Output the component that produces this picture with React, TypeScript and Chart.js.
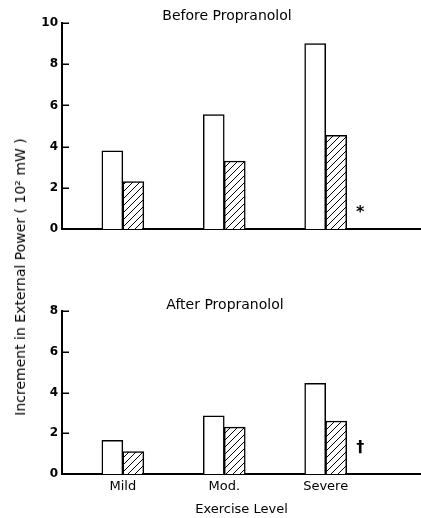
import React, { useEffect, useRef } from "react";
import { Chart, registerables } from "chart.js";

Chart.register(...registerables);

// ---- data ----
const categories = ["Mild", "Mod.", "Severe"];
const beforeOpen = [3.8, 5.55, 9.0];
const beforeHatched = [2.3, 3.3, 4.55];
const afterOpen = [1.65, 2.85, 4.45];
const afterHatched = [1.1, 2.3, 2.6];
const beforeTicks = [0, 2, 4, 6, 8, 10];
const afterTicks = [0, 2, 4, 6, 8];
const beforeTitle = "Before Propranolol";
const afterTitle = "After Propranolol";
const xTitle = "Exercise Level";
const yTitle = "Increment in External Power ( 10² mW )";
const beforeMark = { text: "*", x: 2.34, y: 0.8 };
const afterMark = { text: "†", x: 2.34, y: 1.3 };

const FAMILY = '"DejaVu Sans", Arial, sans-serif';

function makeHatch(): CanvasPattern | string {
  const s = 7;
  const c = document.createElement("canvas");
  c.width = s;
  c.height = s;
  const g = c.getContext("2d");
  if (!g) return "#fff";
  g.fillStyle = "#fff";
  g.fillRect(0, 0, s, s);
  g.strokeStyle = "#000";
  g.lineWidth = 1;
  g.beginPath();
  g.moveTo(0, s);
  g.lineTo(s, 0);
  g.moveTo(-1, 1);
  g.lineTo(1, -1);
  g.moveTo(s - 1, s + 1);
  g.lineTo(s + 1, s - 1);
  g.stroke();
  const p = g.createPattern(c, "repeat");
  return p || "#fff";
}

type PanelOpts = {
  open: number[];
  hatched: number[];
  ticks: number[];
  title: string;
  titleX: number;
  titleY: number;
  mark: { text: string; x: number; y: number };
  showX: boolean;
  padTop: number;
  padBottom: number;
  xHeight: number;
};

function buildChart(canvas: HTMLCanvasElement, o: PanelOpts) {
  const hatch = makeHatch();
  const panelPlugin = {
    id: "panelText",
    afterDraw(chart: any) {
      const { ctx, scales } = chart;
      const ys = scales.y;
      ctx.save();
      // inward tick marks on the y axis
      ctx.strokeStyle = "#000";
      ctx.lineWidth = 1.5;
      ctx.beginPath();
      ys.ticks.forEach((t: any) => {
        const py = Math.round(ys.getPixelForValue(t.value)) + 0.25;
        ctx.moveTo(ys.right, py);
        ctx.lineTo(ys.right + 7, py);
      });
      ctx.stroke();

      ctx.fillStyle = "#000";
      ctx.textAlign = "center";
      ctx.textBaseline = "middle";
      ctx.font = `14px ${FAMILY}`;
      ctx.fillText(o.title, o.titleX, o.titleY);
      ctx.font = `bold 16px ${FAMILY}`;
      ctx.fillText(
        o.mark.text,
        scales.x.getPixelForValue(o.mark.x),
        ys.getPixelForValue(o.mark.y)
      );
      ctx.restore();
    },
  };
  return new Chart(canvas, {
    type: "bar",
    data: {
      datasets: [
        {
          data: categories.map((_, i) => ({ x: i, y: o.open[i] })),
          backgroundColor: "#fff",
          borderColor: "#000",
          borderWidth: 1.5,
          barThickness: 21,
          borderSkipped: "bottom",
        },
        {
          data: categories.map((_, i) => ({ x: i, y: o.hatched[i] })),
          backgroundColor: hatch as any,
          borderColor: "#000",
          borderWidth: 1.5,
          barThickness: 21,
          borderSkipped: "bottom",
        },
      ],
    } as any,
    options: {
      animation: false,
      responsive: false,
      layout: { padding: { top: o.padTop, bottom: o.padBottom, left: 0, right: 0 } },
      plugins: {
        legend: { display: false },
        tooltip: { enabled: false },
        title: { display: false },
      },
      scales: {
        x: {
          type: "linear",
          min: -0.6,
          max: 2.94,
          offset: false,
          afterBuildTicks: (s: any) => {
            s.ticks = categories.map((_, i) => ({ value: i }));
          },
          afterFit: (s: any) => {
            s.height = o.xHeight;
          },
          ticks: {
            display: o.showX,
            autoSkip: false,
            maxRotation: 0,
            padding: 5,
            color: "#000",
            font: { family: FAMILY, size: 13 },
            callback: (v: any) => categories[v] ?? "",
          },
          grid: { display: false, drawTicks: false },
          border: { display: true, color: "#000", width: 2 },
          title: {
            display: o.showX,
            text: xTitle,
            color: "#000",
            font: { family: FAMILY, size: 13 },
            padding: { top: 0, bottom: 1 },
          },
        },
        y: {
          min: 0,
          max: o.ticks[o.ticks.length - 1],
          afterBuildTicks: (s: any) => {
            s.ticks = o.ticks.map((v) => ({ value: v }));
          },
          afterFit: (s: any) => {
            s.width = 62;
          },
          ticks: {
            padding: 4,
            color: "#000",
            font: { family: FAMILY, size: 12, weight: "bold" },
          },
          grid: {
            display: false,
            drawOnChartArea: false,
            drawTicks: false,
          },
          border: { display: true, color: "#000", width: 2 },
        },
      },
    } as any,
    plugins: [panelPlugin],
  });
}

export default function App() {
  const topRef = useRef<HTMLCanvasElement>(null);
  const botRef = useRef<HTMLCanvasElement>(null);

  useEffect(() => {
    if (!topRef.current || !botRef.current) return;
    const top = buildChart(topRef.current, {
      open: beforeOpen,
      hatched: beforeHatched,
      ticks: beforeTicks,
      title: beforeTitle,
      titleX: 227,
      titleY: 16,
      mark: beforeMark,
      showX: false,
      padTop: 23,
      padBottom: 16,
      xHeight: 0,
    });
    const bot = buildChart(botRef.current, {
      open: afterOpen,
      hatched: afterHatched,
      ticks: afterTicks,
      title: afterTitle,
      titleX: 225,
      titleY: 60,
      mark: afterMark,
      showX: true,
      padTop: 66,
      padBottom: 0,
      xHeight: 44,
    });
    return () => {
      top.destroy();
      bot.destroy();
    };
  }, []);

  return (
    <div
      style={{
        position: "fixed",
        left: 0,
        top: 0,
        width: 421,
        height: 518,
        background: "#fff",
        overflow: "hidden",
      }}
    >
      <canvas
        ref={topRef}
        width={421}
        height={245}
        style={{ position: "absolute", left: 0, top: 0, width: 421, height: 245 }}
      />
      <canvas
        ref={botRef}
        width={421}
        height={273}
        style={{ position: "absolute", left: 0, top: 245, width: 421, height: 273 }}
      />
      <div
        style={{
          position: "absolute",
          left: 20,
          top: 277,
          transform: "translate(-50%, -50%) rotate(-90deg)",
          whiteSpace: "nowrap",
          fontFamily: FAMILY,
          fontSize: 14,
          lineHeight: 1,
          color: "#000",
        }}
      >
        {yTitle}
      </div>
    </div>
  );
}
